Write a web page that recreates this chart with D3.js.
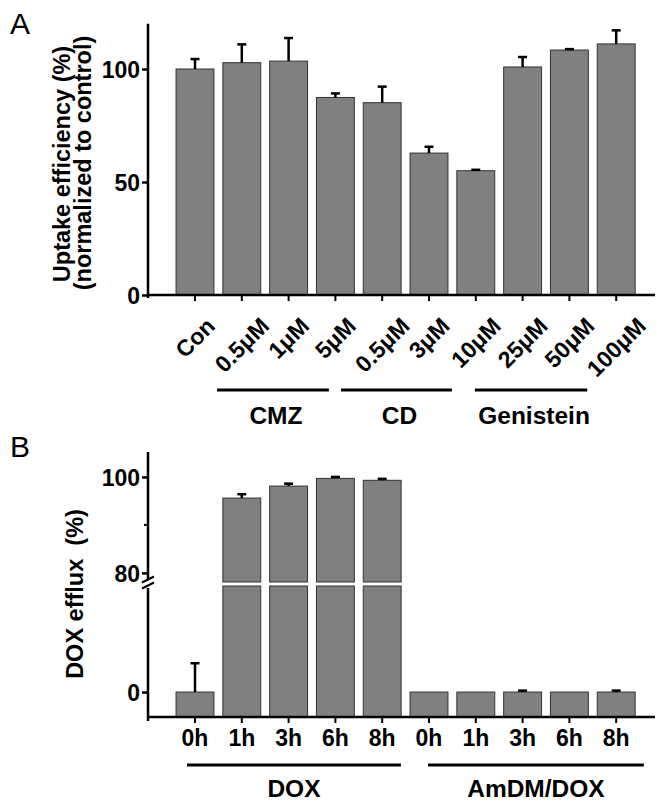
<!DOCTYPE html>
<html>
<head>
<meta charset="utf-8">
<script src="https://cdn.jsdelivr.net/npm/d3@7/dist/d3.min.js"></script>
<style>
  html, body { margin: 0; padding: 0; background: #fff; }
  svg { display: block; }
  text { font-family: "Liberation Sans", Arial, Helvetica, sans-serif; }
</style>
</head>
<body>
<svg id="chart" width="657" height="804"></svg>
<script>
// ---------- Data: panel A ----------
const catsA = ["Con", "0.5μM", "1μM", "5μM", "0.5μM", "3μM", "10μM", "25μM", "50μM", "100μM"];
const valuesA = [100, 102.8, 103.5, 87.4, 85.1, 62.8, 55.0, 100.9, 108.4, 111.1];
const errorsA = [4.4, 8.1, 10.2, 1.8, 7.1, 2.8, 0.4, 4.4, 0.4, 6.0];
const ticksA = [0, 50, 100];
const groupsA = [
  { label: "CMZ", from: 0.47, to: 2.86 },
  { label: "CD", from: 3.12, to: 5.49 },
  { label: "Genistein", from: 5.98, to: 8.38 }
];

// ---------- Data: panel B ----------
const catsB = ["0h", "1h", "3h", "6h", "8h", "0h", "1h", "3h", "6h", "8h"];
const valuesB = [0, 95.6, 98.1, 99.7, 99.3, 0, 0, 0, 0, 0];
const errorsB = [6.0, 0.8, 0.5, 0.3, 0.3, 0, 0, 0.3, 0, 0.3];
const ticksBUpper = [80, 100];
const minorTicksBUpper = [90];
const ticksBLower = [0];
const groupsB = [
  { label: "DOX", from: -0.17, to: 4.40 },
  { label: "AmDM/DOX", from: 4.98, to: 9.59 }
];

// ---------- Drawing ----------
const svg = d3.select("#chart");
const FILL = "#808080", EDGE = "#333", INK = "#000";
const AXW = 2.5;
const axisX = 148;
const FS_TICK = 23, FS_GROUP = 24.5, FS_TITLE = 23.5, FS_PANEL = 30;

function xScale(n) {
  return d3.scaleBand().domain(d3.range(n)).range([171.6, 639.6]).paddingInner(0.19).paddingOuter(0.095);
}
const xA = xScale(catsA.length);
const idxA = d3.scaleLinear().domain([0, catsA.length - 1]).range([xA(0) + xA.bandwidth() / 2, xA(catsA.length - 1) + xA.bandwidth() / 2]);

function drawErr(g, vals, errs, xs, yf) {
  vals.forEach((v, i) => {
    const cx = xs(i) + xs.bandwidth() / 2;
    const e = errs[i];
    if (e <= 0) return;
    g.append("line").attr("x1", cx).attr("x2", cx).attr("y1", yf(v)).attr("y2", yf(v + e))
      .attr("stroke", INK).attr("stroke-width", 2.5);
    g.append("line").attr("x1", cx - 4.5).attr("x2", cx + 4.5).attr("y1", yf(v + e)).attr("y2", yf(v + e))
      .attr("stroke", INK).attr("stroke-width", 2.5);
  });
}
function styleYAxis(ax) {
  ax.select(".domain").remove();
  ax.selectAll(".tick line").attr("stroke", INK).attr("stroke-width", AXW);
  ax.selectAll(".tick text").attr("font-size", FS_TICK).attr("font-weight", "bold").attr("fill", INK)
    .attr("font-family", "'Liberation Sans', Arial, sans-serif").attr("dy", "0.36em");
}

// ===== Panel A =====
const yA = d3.scaleLinear().domain([0, 120]).range([295, 23.8]);
const gA = svg.append("g");

gA.append("text").attr("x", 10).attr("y", 34).attr("font-size", FS_PANEL).text("A");

gA.selectAll("rect.bar").data(valuesA).join("rect")
  .attr("x", (d, i) => xA(i)).attr("width", xA.bandwidth())
  .attr("y", d => yA(d)).attr("height", d => yA(0) - yA(d))
  .attr("fill", FILL).attr("stroke", EDGE).attr("stroke-width", 1);
drawErr(gA, valuesA, errorsA, xA, yA);

const yAxisA = gA.append("g").attr("transform", `translate(${axisX},0)`)
  .call(d3.axisLeft(yA).tickValues(ticksA).tickSize(6).tickSizeOuter(0).tickPadding(2));
styleYAxis(yAxisA);
gA.append("line").attr("x1", axisX).attr("x2", axisX).attr("y1", yA(120)).attr("y2", 298)
  .attr("stroke", INK).attr("stroke-width", AXW);

gA.append("line").attr("x1", axisX - 1).attr("x2", 655).attr("y1", yA(0)).attr("y2", yA(0))
  .attr("stroke", INK).attr("stroke-width", AXW);
gA.selectAll("line.xt").data(catsA).join("line")
  .attr("x1", (d, i) => xA(i) + xA.bandwidth() / 2).attr("x2", (d, i) => xA(i) + xA.bandwidth() / 2)
  .attr("y1", yA(0)).attr("y2", yA(0) + 6).attr("stroke", INK).attr("stroke-width", 2);

// rotated labels: centred on the tick, rotated box top aligned
const labelTop = 316;
gA.selectAll("text.xl").data(catsA).join("text")
  .attr("class", "xl")
  .attr("text-anchor", "middle").attr("dy", "0.35em")
  .attr("font-size", FS_TICK).attr("font-weight", "bold").text(d => d)
  .each(function (d, i) {
    const L = this.getComputedTextLength();
    const h = (L + 0.72 * FS_TICK) * Math.SQRT1_2;
    const cx = xA(i) + xA.bandwidth() / 2;
    d3.select(this).attr("transform", `translate(${cx},${labelTop + h / 2}) rotate(-45)`);
  });

groupsA.forEach(g => {
  const x1 = idxA(g.from), x2 = idxA(g.to);
  gA.append("line").attr("x1", x1).attr("x2", x2).attr("y1", 390).attr("y2", 390)
    .attr("stroke", INK).attr("stroke-width", 3);
  gA.append("text").attr("x", (x1 + x2) / 2 + 3).attr("y", 424).attr("text-anchor", "middle")
    .attr("font-size", FS_GROUP).attr("font-weight", "bold").text(g.label);
});

gA.append("text").attr("transform", "translate(70,164) rotate(-90)").attr("text-anchor", "middle")
  .attr("font-size", FS_TITLE).attr("font-weight", "bold").text("Uptake efficiency (%)");
gA.append("text").attr("transform", "translate(91,163) rotate(-90)").attr("text-anchor", "middle")
  .attr("font-size", FS_TITLE).attr("font-weight", "bold").text("(normalized to control)");

// ===== Panel B =====
const xB = xScale(catsB.length);
const idxB = d3.scaleLinear().domain([0, catsB.length - 1]).range([xB(0) + xB.bandwidth() / 2, xB(catsB.length - 1) + xB.bandwidth() / 2]);
const yUp = d3.scaleLinear().domain([78.1, 105.2]).range([582, 452]);
const yLow = d3.scaleLinear().domain([-5.2, 22.1]).range([717, 586]);
const brk = 22.1;
const gB = svg.append("g");

gB.append("text").attr("x", 10).attr("y", 457).attr("font-size", FS_PANEL).text("B");

valuesB.forEach((v, i) => {
  const x = xB(i), w = xB.bandwidth();
  if (v > brk) {
    gB.append("rect").attr("x", x).attr("width", w).attr("y", yLow(brk)).attr("height", yLow(-5.2) - yLow(brk))
      .attr("fill", FILL).attr("stroke", EDGE).attr("stroke-width", 1);
    gB.append("rect").attr("x", x).attr("width", w).attr("y", yUp(v)).attr("height", yUp(78.1) - yUp(v))
      .attr("fill", FILL).attr("stroke", EDGE).attr("stroke-width", 1);
  } else {
    gB.append("rect").attr("x", x).attr("width", w).attr("y", yLow(v)).attr("height", yLow(-5.2) - yLow(v))
      .attr("fill", FILL).attr("stroke", EDGE).attr("stroke-width", 1);
  }
});
const yB = v => (v > brk ? yUp(v) : yLow(v));
drawErr(gB, valuesB, errorsB, xB, yB);

const yAxUp = gB.append("g").attr("transform", `translate(${axisX},0)`)
  .call(d3.axisLeft(yUp).tickValues(ticksBUpper).tickSize(6).tickSizeOuter(0).tickPadding(2));
const yAxLow = gB.append("g").attr("transform", `translate(${axisX},0)`)
  .call(d3.axisLeft(yLow).tickValues(ticksBLower).tickSize(6).tickSizeOuter(0).tickPadding(2));
styleYAxis(yAxUp);
styleYAxis(yAxLow);
gB.selectAll("line.minor").data(minorTicksBUpper).join("line")
  .attr("x1", axisX - 4).attr("x2", axisX).attr("y1", d => yUp(d)).attr("y2", d => yUp(d))
  .attr("stroke", INK).attr("stroke-width", 2);
gB.append("line").attr("x1", axisX).attr("x2", axisX).attr("y1", yUp(105.2)).attr("y2", 580)
  .attr("stroke", INK).attr("stroke-width", AXW);
gB.append("line").attr("x1", axisX).attr("x2", axisX).attr("y1", 588).attr("y2", 721)
  .attr("stroke", INK).attr("stroke-width", AXW);
[579.5, 585.5].forEach(y => {
  gB.append("line").attr("x1", axisX - 6).attr("x2", axisX + 6).attr("y1", y + 3).attr("y2", y - 3)
    .attr("stroke", INK).attr("stroke-width", 2);
});

gB.append("line").attr("x1", axisX - 1).attr("x2", 655).attr("y1", 717).attr("y2", 717)
  .attr("stroke", INK).attr("stroke-width", AXW);
gB.selectAll("line.xt").data(catsB).join("line")
  .attr("x1", (d, i) => xB(i) + xB.bandwidth() / 2).attr("x2", (d, i) => xB(i) + xB.bandwidth() / 2)
  .attr("y1", 717).attr("y2", 723).attr("stroke", INK).attr("stroke-width", 2);
gB.selectAll("text.xl").data(catsB).join("text")
  .attr("x", (d, i) => xB(i) + xB.bandwidth() / 2).attr("y", 746).attr("text-anchor", "middle")
  .attr("font-size", FS_TICK).attr("font-weight", "bold").text(d => d);

groupsB.forEach(g => {
  const x1 = idxB(g.from), x2 = idxB(g.to);
  gB.append("line").attr("x1", x1).attr("x2", x2).attr("y1", 765).attr("y2", 765)
    .attr("stroke", INK).attr("stroke-width", 3);
  gB.append("text").attr("x", (x1 + x2) / 2).attr("y", 797).attr("text-anchor", "middle")
    .attr("font-size", FS_GROUP).attr("font-weight", "bold").text(g.label);
});

gB.append("text").attr("transform", "translate(83,594) rotate(-90)").attr("text-anchor", "middle")
  .attr("font-size", FS_TITLE).attr("font-weight", "bold").style("white-space", "pre")
  .text("DOX efflux  (%)");
</script>
</body>
</html>
